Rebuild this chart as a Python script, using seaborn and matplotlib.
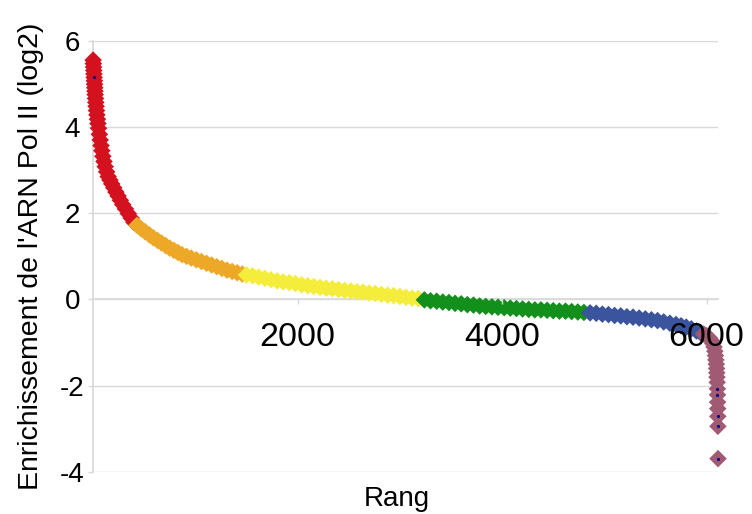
import pandas as pd
import seaborn as sns
import matplotlib
matplotlib.use('Agg')
import matplotlib.pyplot as plt

# valeurs (rang, enrichissement log2), par groupe de couleur
rang_rouge = [1, 3, 5, 7, 9, 11, 13, 15, 17, 19, 21, 24, 27, 30, 34, 38, 43, 48, 54, 62,
              70, 78, 86, 96, 107, 119, 133, 148, 165, 183, 203, 224, 245, 267, 290, 317, 345, 372, 400]
val_rouge = [5.55, 5.47, 5.39, 5.31, 5.23, 5.15, 5.07, 4.99, 4.91, 4.83, 4.75, 4.66, 4.57, 4.48, 4.38, 4.28, 4.18, 4.08, 3.97, 3.83,
             3.70, 3.57, 3.45, 3.32, 3.20, 3.08, 2.96, 2.85, 2.77, 2.68, 2.59, 2.49, 2.40, 2.30, 2.20, 2.10, 1.99, 1.89, 1.79]

rang_orange = [430, 470, 510, 550, 590, 630, 670, 710, 750, 790, 830, 870, 915, 960, 1010, 1060, 1110, 1160, 1210, 1260,
               1310, 1360, 1410, 1460]
val_orange = [1.72, 1.64, 1.57, 1.50, 1.43, 1.37, 1.31, 1.25, 1.19, 1.14, 1.09, 1.04, 1.00, 0.96, 0.92, 0.88, 0.84, 0.80, 0.76, 0.72,
              0.68, 0.65, 0.62, 0.59]

rang_jaune = [1500, 1560, 1620, 1680, 1740, 1800, 1860, 1920, 1980, 2040, 2100, 2160, 2220, 2280, 2340, 2400, 2460, 2520, 2580, 2640,
              2700, 2760, 2820, 2880, 2940, 3000, 3060, 3120, 3180]
val_jaune = [0.57, 0.55, 0.52, 0.49, 0.46, 0.43, 0.41, 0.39, 0.37, 0.34, 0.32, 0.30, 0.28, 0.26, 0.25, 0.23, 0.21, 0.20, 0.18, 0.17,
             0.15, 0.14, 0.12, 0.10, 0.09, 0.07, 0.05, 0.03, 0.02]

rang_vert = [3240, 3300, 3360, 3420, 3480, 3540, 3600, 3660, 3720, 3780, 3840, 3900, 3960, 4020, 4080, 4140, 4200, 4260, 4320, 4380,
             4440, 4500, 4560, 4620, 4680, 4740, 4800]
val_vert = [-0.01, -0.03, -0.04, -0.06, -0.07, -0.09, -0.10, -0.12, -0.13, -0.15, -0.16, -0.17, -0.18, -0.19, -0.20, -0.21, -0.22, -0.23, -0.24, -0.24,
            -0.25, -0.26, -0.27, -0.27, -0.28, -0.29, -0.30]

rang_bleu = [4860, 4920, 4980, 5040, 5100, 5160, 5220, 5280, 5340, 5400, 5460, 5520, 5580, 5640, 5700, 5750, 5800, 5850, 5900, 5940]
val_bleu = [-0.31, -0.32, -0.34, -0.35, -0.37, -0.38, -0.40, -0.41, -0.43, -0.45, -0.47, -0.49, -0.52, -0.55, -0.58, -0.61, -0.64, -0.68, -0.73, -0.77]

rang_mauve = [5970, 6000, 6025, 6045, 6060, 6072, 6080, 6086, 6090, 6094, 6097, 6099, 6101, 6103, 6105, 6106, 6107, 6108, 6109, 6110, 6111]
val_mauve = [-0.80, -0.84, -0.89, -0.95, -1.02, -1.10, -1.20, -1.30, -1.40, -1.50, -1.60, -1.70, -1.80, -1.92, -2.07, -2.21, -2.38, -2.53, -2.71, -2.94, -3.69]

# petits points bleu foncé visibles au centre de certains losanges
rang_points = [11, 6105, 6106, 6109, 6110, 6111]
val_points = [5.15, -2.07, -2.21, -2.71, -2.94, -3.69]

groupes = ['rouge', 'orange', 'jaune', 'vert', 'bleu', 'mauve']
couleurs = {'rouge': '#D4111F', 'orange': '#EDA828', 'jaune': '#F5ED3C',
            'vert': '#138F1B', 'bleu': '#3A549E', 'mauve': '#A05A73'}

parts = []
for g, r, v in zip(groupes,
                   [rang_rouge, rang_orange, rang_jaune, rang_vert, rang_bleu, rang_mauve],
                   [val_rouge, val_orange, val_jaune, val_vert, val_bleu, val_mauve]):
    parts.append(pd.DataFrame({'Rang': r, 'Enrichissement': v, 'groupe': g}))
df = pd.concat(parts, ignore_index=True)

sns.set_theme(style='white')
plt.rcParams['font.family'] = ['Liberation Sans', 'DejaVu Sans']
plt.rcParams['axes.unicode_minus'] = False
plt.rcParams['text.color'] = 'black'
plt.rcParams['axes.labelcolor'] = 'black'

fig = plt.figure(figsize=(7.52, 5.14), dpi=100)
ax = fig.add_axes([0.1237, 0.0817, 0.8311, 0.8391])

sns.scatterplot(data=df, x='Rang', y='Enrichissement', hue='groupe', hue_order=groupes,
                palette=couleurs, marker='D', s=80, linewidth=0, legend=False,
                clip_on=False, ax=ax)
sns.scatterplot(x=rang_points, y=val_points, color='#000080', marker='o', s=5,
                linewidth=0, clip_on=False, ax=ax)

ax.set_xlim(0, 6111)
ax.set_ylim(-4, 6)
ax.set_yticks([-4, -2, 0, 2, 4, 6])
ax.set_xticks([2000, 4000, 6000])

gris = '#D9D9D9'
ax.yaxis.grid(True, color=gris, linewidth=1)
ax.xaxis.grid(False)
for s in ['top', 'right']:
    ax.spines[s].set_visible(False)
ax.spines['left'].set_color(gris)
ax.spines['bottom'].set_color(gris)
ax.spines['bottom'].set_position(('data', 0))
ax.spines['bottom'].set_zorder(0.5)
ax.spines['left'].set_zorder(0.5)
ax.xaxis.set_zorder(3)

ax.tick_params(axis='x', direction='out', length=3.5, width=1, color=gris,
               labelsize=24.5, pad=12.5, labelcolor='black', bottom=True)
ax.tick_params(axis='y', direction='out', length=3.5, width=1, color=gris,
               labelsize=20, pad=11.3, labelcolor='black', left=True)
for lab in ax.get_yticklabels():
    lab.set_horizontalalignment('center')

ax.set_xlabel('Rang', fontsize=20, color='black')
ax.set_ylabel("Enrichissement de l'ARN Pol II (log2)", fontsize=20.5, color='black')
ax.xaxis.set_label_coords(0.486, -0.032)
ax.yaxis.set_label_coords(-0.078, 0.5)

fig.savefig('out.png', dpi=100, facecolor='white')
